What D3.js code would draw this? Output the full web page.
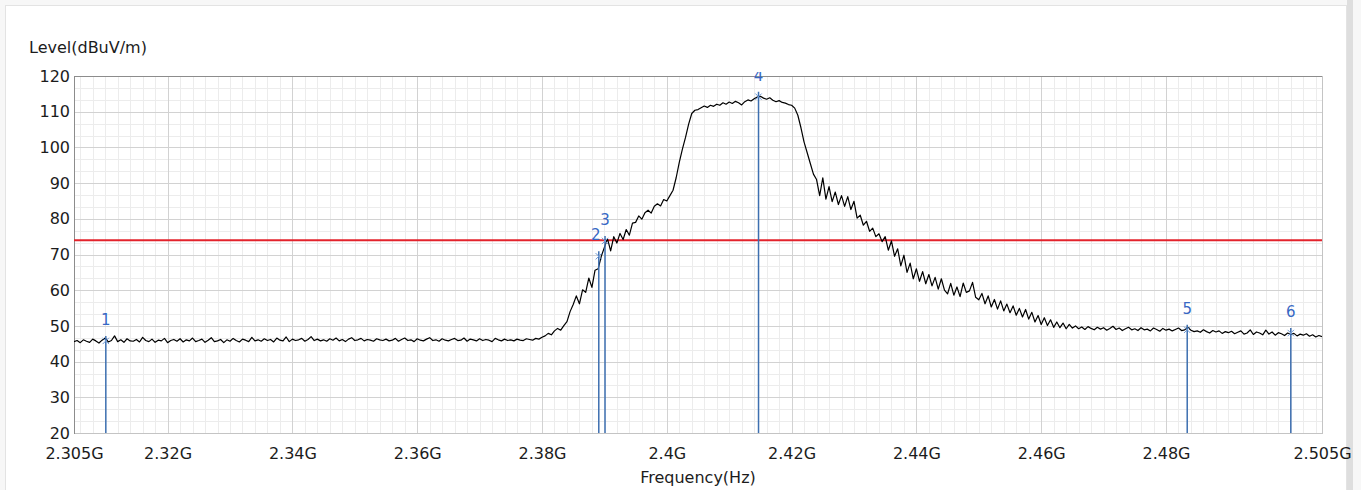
<!DOCTYPE html>
<html>
<head>
<meta charset="utf-8">
<script src="https://cdn.jsdelivr.net/npm/d3@7"></script>
<style>
    body { margin: 0; background: #f7f7f7; }
    svg { display: block; font-family: "DejaVu Sans", sans-serif; }
</style>
</head>
<body>
<svg id="chart" width="1361" height="490"></svg>
<script>
// sweep: 2.305 GHz .. 2.505 GHz, one reading every 0.5 MHz
const sweepStart = 2.305;
const sweepStep = 0.0005;

// trace levels (dBuV/m), 20 readings per row = 10 MHz per row
const levels = [
    45.6, 45.9, 45.3, 46.1, 45.7, 45.4, 46.3, 45.8, 45.2, 46.0, 46.6, 45.5, 45.9, 47.2, 45.6, 46.1, 45.4, 46.4, 45.8, 45.7,
    46.2, 45.5, 46.8, 45.9, 45.6, 46.3, 45.4, 46.0, 45.8, 46.5, 45.3, 45.9, 46.2, 45.7, 46.4, 45.5, 46.1, 45.8, 46.6, 45.6,
    45.9, 46.3, 45.4, 46.0, 46.7, 45.6, 45.8, 46.2, 45.3, 46.1, 45.7, 46.5, 45.9, 45.5, 46.3, 46.0, 45.6, 46.8, 45.8, 46.1,
    45.7, 46.4, 45.9, 46.2, 45.5, 46.6, 46.0, 45.8, 46.9, 45.6, 46.3, 45.9, 46.1, 46.5, 45.7, 46.2, 47.0, 45.9, 46.3, 45.8,
    46.1, 45.7, 46.4, 46.0, 46.6, 45.8, 46.2, 45.6, 46.3, 46.7, 45.9, 46.1, 46.5, 45.8, 46.2, 46.0, 45.7, 46.4, 46.1, 45.9,
    46.3, 45.8, 46.0, 46.5, 45.7, 46.2, 46.6, 45.9, 46.1, 45.6, 46.4, 46.0, 45.8, 46.3, 46.7, 45.9, 46.1, 45.7, 46.4, 46.0,
    45.8, 46.2, 46.5, 45.9, 46.0, 46.6, 45.7, 46.3, 46.1, 45.8, 46.4, 45.9, 46.2, 46.0, 45.6, 46.5, 46.1, 45.8, 46.3, 45.9,
    46.1, 45.8, 46.3, 46.0, 45.9, 46.4, 46.2, 46.0, 46.5, 46.3, 46.8, 47.2, 47.9, 47.5, 48.6, 49.3, 48.8, 50.1, 51.2, 54.0,
    56.0, 58.4, 56.2, 60.1, 59.4, 63.4, 60.8, 65.6, 66.0, 69.5, 72.0, 74.4, 71.0, 75.0, 73.2, 75.9, 74.2, 77.0, 75.4, 78.8,
    79.0, 80.8, 79.9, 81.7, 82.4, 81.6, 83.5, 84.2, 83.6, 85.4, 85.0, 86.5, 88.0, 91.5, 95.8, 99.5, 102.8, 106.5, 109.5, 110.4,
    110.6, 111.1, 111.6, 111.2, 111.8, 111.5, 112.1, 111.8, 112.5, 112.1, 112.7, 112.3, 112.9, 112.5, 111.9, 112.8, 113.3, 113.0, 113.6, 114.1,
    114.3, 113.8, 113.5, 113.9, 113.2, 112.8, 113.1, 112.6, 112.4, 112.0, 111.8, 111.0, 109.0, 105.5, 101.5, 98.5, 95.5, 92.5, 91.0, 86.5,
    91.5, 85.5, 89.0, 84.8, 87.5, 84.0, 86.5, 83.5, 86.2, 82.6, 84.9, 80.2, 81.0, 78.2, 79.3, 76.5, 77.4, 75.0, 75.8, 73.6,
    75.0, 71.2, 73.8, 69.5, 71.6, 66.8, 69.8, 65.0, 67.6, 63.2, 66.0, 62.5, 65.2, 61.8, 64.4, 61.2, 63.6, 60.3, 63.2, 60.0,
    59.0, 61.9, 58.6, 60.9, 58.2, 62.0, 59.4, 59.8, 62.2, 58.0, 57.3, 59.1, 56.2, 58.4, 55.3, 57.4, 54.7, 57.0, 54.2, 56.1,
    53.7, 55.6, 53.0, 54.9, 52.5, 54.6, 51.9, 53.8, 51.1, 52.9, 50.4, 52.3, 50.1, 51.7, 49.6, 51.1, 49.5, 50.8, 49.2, 50.4,
    49.4, 50.0, 49.2, 49.7, 49.0, 49.8, 49.3, 48.9, 49.6, 49.1, 49.5, 48.8, 49.3, 49.9, 49.0, 49.4, 48.7, 49.2, 49.6, 48.9,
    49.2, 48.7, 49.5, 48.9, 49.1, 48.6, 49.4, 49.0, 48.5, 49.3, 48.8, 49.1, 48.6, 49.0, 49.4, 48.7, 48.9, 49.6, 48.8, 48.4,
    48.6, 48.2, 48.9, 48.4, 48.0, 48.7, 48.3, 48.6, 47.9, 48.4, 48.1, 48.5, 47.8, 48.2, 48.6, 47.7, 48.0, 48.9, 47.6, 48.3,
    48.0, 47.5, 48.8, 47.7, 48.3, 47.4, 48.1, 47.8, 47.3, 48.0, 47.6, 47.9, 47.2, 47.7, 47.4, 47.8, 47.1, 47.5, 46.9, 47.3,
    47.0
];

const limitLevel = 74;

const markerIds = ["1", "2", "3", "4", "5", "6"];
const markerFreqs = [2.3101, 2.3891, 2.3901, 2.4147, 2.4834, 2.5000];
const markerLevels = [45.8, 69.5, 73.8, 114.2, 48.9, 48.0];

const xTickValues = [2.305, 2.32, 2.34, 2.36, 2.38, 2.40, 2.42, 2.44, 2.46, 2.48, 2.505];
const xTickLabels = ["2.305G", "2.32G", "2.34G", "2.36G", "2.38G", "2.4G", "2.42G", "2.44G", "2.46G", "2.48G", "2.505G"];
const yTickValues = [20, 30, 40, 50, 60, 70, 80, 90, 100, 110, 120];

const plot = { left: 74, right: 1322, top: 76, bottom: 433 };

let svg = d3.select('#chart');

// panel behind the chart
svg.append('rect')
    .attr('x', 5.5).attr('y', 5.5)
    .attr('width', 1341).attr('height', 490)
    .attr('fill', '#ffffff')
    .attr('stroke', '#e3e3e3');
svg.append('rect')
    .attr('x', 1347).attr('y', 0)
    .attr('width', 6).attr('height', 490)
    .attr('fill', '#dedede');

let x = d3.scaleLinear().domain([2.305, 2.505]).range([plot.left, plot.right]);
let y = d3.scaleLinear().domain([20, 120]).range([plot.bottom, plot.top]);

svg.append('defs').append('clipPath')
    .attr('id', 'plot-clip')
    .append('rect')
    .attr('x', plot.left).attr('y', plot.top - 4)
    .attr('width', plot.right - plot.left).attr('height', plot.bottom - plot.top + 4);

let gridGroup = svg.append('g').attr('id', 'grid-g');

// minor grid: 2 MHz and 1/3 of a decade step
let minorX = d3.range(2.306, 2.505, 0.002);
let minorY = d3.range(0, 30).map(k => 20 + k * 10 / 3).filter(v => v > 20);

gridGroup.selectAll('.minor-x').data(minorX).join('line')
    .attr('x1', d => Math.round(x(d)) + 0.5).attr('x2', d => Math.round(x(d)) + 0.5)
    .attr('y1', plot.top).attr('y2', plot.bottom)
    .attr('stroke', '#ececec');
gridGroup.selectAll('.minor-y').data(minorY).join('line')
    .attr('y1', d => Math.round(y(d)) + 0.5).attr('y2', d => Math.round(y(d)) + 0.5)
    .attr('x1', plot.left).attr('x2', plot.right)
    .attr('stroke', '#ececec');

gridGroup.selectAll('.major-x').data(xTickValues.slice(1, -1)).join('line')
    .attr('x1', d => Math.round(x(d)) + 0.5).attr('x2', d => Math.round(x(d)) + 0.5)
    .attr('y1', plot.top).attr('y2', plot.bottom)
    .attr('stroke', '#d2d2d2');
gridGroup.selectAll('.major-y').data(yTickValues.slice(1, -1)).join('line')
    .attr('y1', d => Math.round(y(d)) + 0.5).attr('y2', d => Math.round(y(d)) + 0.5)
    .attr('x1', plot.left).attr('x2', plot.right)
    .attr('stroke', '#d2d2d2');

// frame
gridGroup.append('rect')
    .attr('x', plot.left + 0.5).attr('y', plot.top + 0.5)
    .attr('width', plot.right - plot.left).attr('height', plot.bottom - plot.top)
    .attr('fill', 'none')
    .attr('stroke', '#c4c4c4');
gridGroup.append('line')
    .attr('x1', plot.left + 0.5).attr('x2', plot.left + 0.5)
    .attr('y1', plot.top).attr('y2', plot.bottom + 1)
    .attr('stroke', '#8c8c8c');
gridGroup.append('line')
    .attr('x1', plot.left).attr('x2', plot.right)
    .attr('y1', plot.top + 0.5).attr('y2', plot.top + 0.5)
    .attr('stroke', '#8c8c8c');

// axes (labels only)
let xAxis = svg.append('g')
    .attr('transform', `translate(0,${plot.bottom})`)
    .call(d3.axisBottom(x)
        .tickValues(xTickValues)
        .tickFormat((d, i) => xTickLabels[i])
        .tickSize(0)
        .tickPadding(15));
let yAxis = svg.append('g')
    .attr('transform', `translate(${plot.left},0)`)
    .call(d3.axisLeft(y)
        .tickValues(yTickValues)
        .tickFormat(d3.format('d'))
        .tickSize(0)
        .tickPadding(4));

[xAxis, yAxis].forEach(a => {
    a.select('.domain').remove();
    a.selectAll('text')
        .attr('fill', '#1c1c1c')
        .style('font-size', '16px')
        .style('font-family', '"DejaVu Sans", sans-serif');
});

svg.append('text')
    .attr('x', 29).attr('y', 53)
    .attr('fill', '#1c1c1c')
    .style('font-size', '16px')
    .text('Level(dBuV/m)');

svg.append('text')
    .attr('x', (plot.left + plot.right) / 2).attr('y', 483)
    .attr('text-anchor', 'middle')
    .attr('fill', '#1c1c1c')
    .style('font-size', '16px')
    .text('Frequency(Hz)');

let dataGroup = svg.append('g').attr('clip-path', 'url(#plot-clip)');

// limit line
dataGroup.append('line')
    .attr('x1', plot.left).attr('x2', plot.right)
    .attr('y1', y(limitLevel)).attr('y2', y(limitLevel))
    .attr('stroke', '#e3232c')
    .attr('stroke-width', 2);

// trace
let traceLine = d3.line()
    .x((d, i) => x(sweepStart + i * sweepStep))
    .y(d => y(d));

dataGroup.append('path')
    .datum(levels)
    .attr('d', traceLine)
    .attr('fill', 'none')
    .attr('stroke', '#000000')
    .attr('stroke-width', 1.2)
    .attr('stroke-linejoin', 'round');

// markers
let markers = markerIds.map((id, i) => ({ id: id, f: markerFreqs[i], level: markerLevels[i] }));

markers.forEach(m => {
    let px = x(m.f);
    let py = y(m.level);
    let labelY = py - 16;
    let lineTop = py - 5;
    if (labelY < plot.top) {
        // no room above the peak: label goes above the frame (clipped away), line runs up to it
        labelY = plot.top - 5;
        lineTop = plot.top - 5;
    }

    dataGroup.append('line')
        .attr('x1', px).attr('x2', px)
        .attr('y1', plot.bottom).attr('y2', lineTop)
        .attr('stroke', '#3d6fb0')
        .attr('stroke-width', 1.5);

    dataGroup.append('path')
        .attr('d', d3.symbol().type(d3.symbolTimes).size(28))
        .attr('transform', `translate(${px},${py})`)
        .attr('fill', 'none')
        .attr('stroke', '#6f9ad6')
        .attr('stroke-width', 1);

    dataGroup.append('text')
        .attr('x', px - (m.id === "2" ? 3 : 0))
        .attr('y', labelY)
        .attr('text-anchor', 'middle')
        .attr('fill', '#3768c4')
        .style('font-size', '15px')
        .text(m.id);
});
</script>
</body>
</html>
